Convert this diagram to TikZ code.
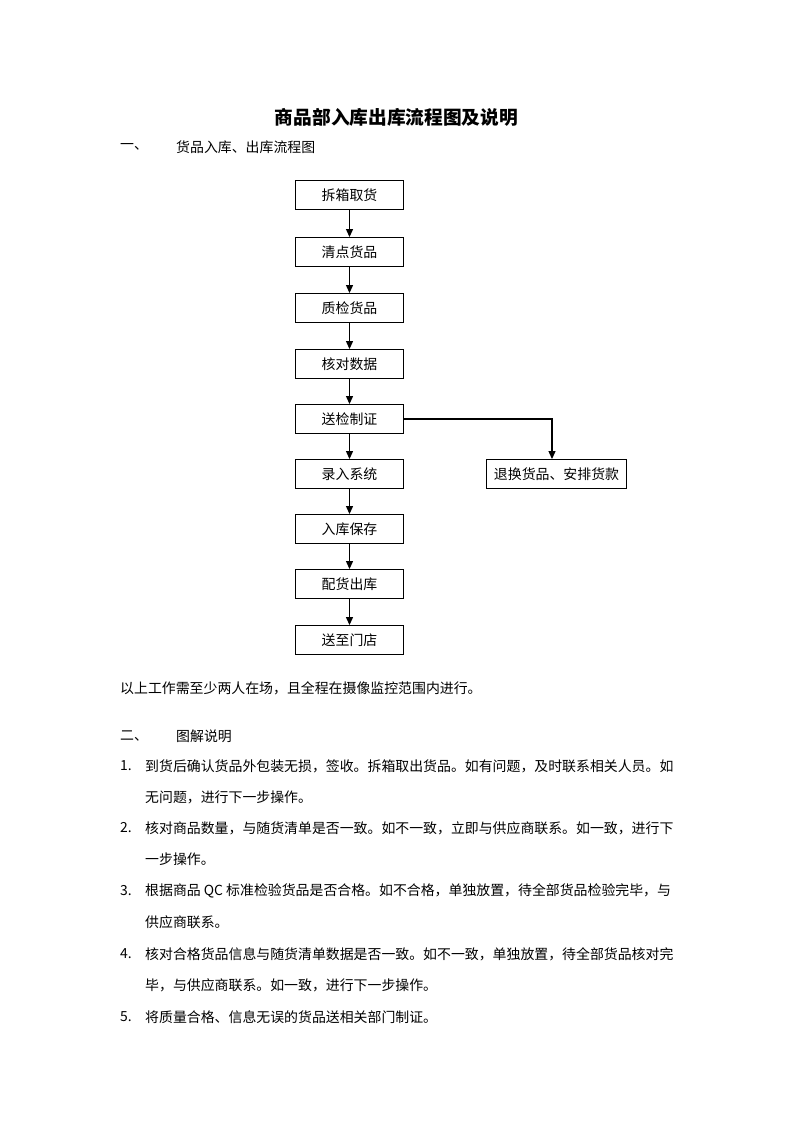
\documentclass[tikz,border=0pt]{standalone}
\usepackage{fontspec}
\setmainfont{Noto Sans CJK SC}
\usetikzlibrary{arrows.meta}
\newcommand{\fs}{\fontsize{13.9pt}{16pt}\selectfont}
\begin{document}
\begin{tikzpicture}[x=1pt,y=-1pt,
  box/.style={draw,line width=0.9pt,minimum width=108pt,minimum height=29pt,inner sep=0pt,font=\fs},
  arr/.style={line width=1.2pt,-{Triangle[length=8pt,width=7pt]}},
  txt/.style={anchor=west,inner sep=0pt,font=\fs}]
\fill[white] (0,0) rectangle (793,1122);
\useasboundingbox (0,0) rectangle (793,1122);
\node[font=\bfseries\fontsize{18.7pt}{20pt}\selectfont,inner sep=0pt] (title) at (396.5,117) {商品部入库出库流程图及说明};
\node[txt] (s1n) at (120,147) {一、};
\node[txt] (s1) at (176,147) {货品入库、出库流程图};
% flowchart
\node[box] (b1) at (349.5,195) {拆箱取货};
\node[box] (b2) at (349.5,252) {清点货品};
\node[box] (b3) at (349.5,308) {质检货品};
\node[box] (b4) at (349.5,364) {核对数据};
\node[box] (b5) at (349.5,419) {送检制证};
\node[box] (b6) at (349.5,474) {录入系统};
\node[box] (b7) at (349.5,529) {入库保存};
\node[box] (b8) at (349.5,584) {配货出库};
\node[box] (b9) at (349.5,640) {送至门店};
\node[box,minimum width=140pt] (r) at (556.5,474) {退换货品、安排货款};
\draw[arr] (b1) -- (b2);
\draw[arr] (b2) -- (b3);
\draw[arr] (b3) -- (b4);
\draw[arr] (b4) -- (b5);
\draw[arr] (b5) -- (b6);
\draw[arr] (b6) -- (b7);
\draw[arr] (b7) -- (b8);
\draw[arr] (b8) -- (b9);
\draw[arr] (b5.east) -| ([xshift=-4.5pt]r.north);
% notes
\node[txt] (note) at (120,688) {以上工作需至少两人在场，且全程在摄像监控范围内进行。};
\node[txt] (s2n) at (120,736) {二、};
\node[txt] (s2) at (176,736) {图解说明};
\node[txt] (n1) at (120,766) {1.};
\node[txt] (l1a) at (145,766) {到货后确认货品外包装无损，签收。拆箱取出货品。如有问题，及时联系相关人员。如};
\node[txt] (l1b) at (145,797) {无问题，进行下一步操作。};
\node[txt] (n2) at (120,828) {2.};
\node[txt] (l2a) at (145,828) {核对商品数量，与随货清单是否一致。如不一致，立即与供应商联系。如一致，进行下};
\node[txt] (l2b) at (145,859) {一步操作。};
\node[txt] (n3) at (120,891) {3.};
\node[txt] (l3a) at (145,891) {根据商品 QC 标准检验货品是否合格。如不合格，单独放置，待全部货品检验完毕，与};
\node[txt] (l3b) at (145,922) {供应商联系。};
\node[txt] (n4) at (120,954) {4.};
\node[txt] (l4a) at (145,954) {核对合格货品信息与随货清单数据是否一致。如不一致，单独放置，待全部货品核对完};
\node[txt] (l4b) at (145,985) {毕，与供应商联系。如一致，进行下一步操作。};
\node[txt] (n5) at (120,1017) {5.};
\node[txt] (l5a) at (145,1017) {将质量合格、信息无误的货品送相关部门制证。};
\end{tikzpicture}
\end{document}
